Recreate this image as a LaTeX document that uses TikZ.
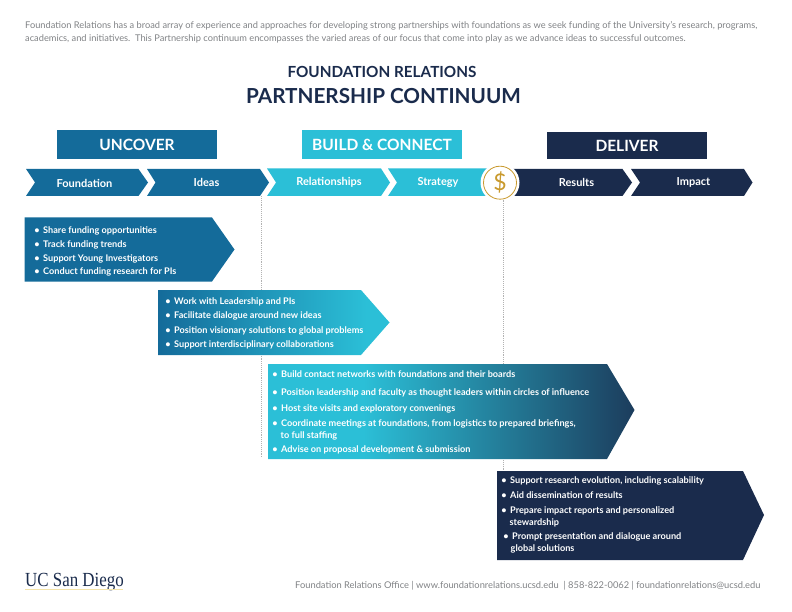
\documentclass[tikz,border=0pt]{standalone}
\usepackage{fontspec}
\setmainfont{Lato}
\newfontfamily\logofont{Liberation Serif}
\usepackage{tikz}
\usetikzlibrary{shapes,arrows}
\definecolor{ucblue}{HTML}{146B9A}
\definecolor{ucteal}{HTML}{2BBFD7}
\definecolor{ucnavy}{HTML}{1A2B4C}
\definecolor{ucgray}{HTML}{808285}
\definecolor{ucgold}{HTML}{C99A2E}
\definecolor{ucpale}{HTML}{F3E3A8}
\pgfdeclarehorizontalshading{bluetoteal}{100bp}{color(0bp)=(ucblue); color(25bp)=(ucblue); color(70bp)=(ucteal); color(100bp)=(ucteal)}
\pgfdeclarehorizontalshading{tealtonavy}{100bp}{color(0bp)=(ucteal); color(38bp)=(ucteal); color(80bp)=(ucnavy); color(100bp)=(ucnavy)}
\newcommand{\blt}{\llap{\textbullet\hspace{3.5pt}}}
\tikzset{
  phasebox/.style={minimum width=160pt, minimum height=29pt, inner sep=0pt, text=white, font=\fontsize{15.5}{18}\selectfont\bfseries},
  steplabel/.style={text=white, inner sep=0pt, font=\fontsize{11}{12}\selectfont\bfseries},
  item/.style={anchor=base west, text=white, inner sep=0pt, font=\fontsize{9.15}{10}\selectfont\bfseries},
  plain/.style={anchor=base west, text=ucgray, inner sep=0pt, font=\fontsize{9.27}{10}\selectfont},
  guide/.style={draw=gray!60, densely dotted, line width=0.9pt}
}
\begin{document}
\begin{tikzpicture}[x=1pt,y=-1pt]
\useasboundingbox (0,0) rectangle (792,612);
% intro and titles
\node (introa) [plain] at (25,29) {Foundation Relations has a broad array of experience and approaches for developing strong partnerships with foundations as we seek funding of the University's research, programs,};
\node (introb) [plain] at (25,42) {academics, and initiatives.\ \ This Partnership continuum encompasses the varied areas of our focus that come into play as we advance ideas to successful outcomes.};
\node (titlea) [text=ucnavy, inner sep=0pt, font=\fontsize{15.3}{18}\selectfont\bfseries] at (382,71.5) {FOUNDATION RELATIONS};
\node (titleb) [text=ucnavy, inner sep=0pt, font=\fontsize{20.7}{24}\selectfont\bfseries] at (383.5,96) {PARTNERSHIP CONTINUUM};
% phases
\node (uncover) [phasebox, fill=ucblue] at (137,145) {UNCOVER};
\node (build) [phasebox, fill=ucteal] at (382,145) {BUILD \& CONNECT};
\node (deliver) [phasebox, fill=ucnavy, minimum height=27pt] at (627,146) {DELIVER};
% guide lines
\coordinate (guidea) at (261,196);
\coordinate (guideaend) at (261,458);
\draw [guide] (guidea) -- (guideaend);
% steps
\fill [ucblue] (26,169) -- (138.5,169) -- (148,182.5) -- (138.5,196) -- (26,196) -- (35,182.5) -- cycle;
\fill [ucblue] (147,169) -- (260,169) -- (269,182.5) -- (260,196) -- (147,196) -- (155.5,182.5) -- cycle;
\fill [ucteal] (267,168.5) -- (381,168.5) -- (390,182.5) -- (381,196) -- (267,196) -- (276,182.5) -- cycle;
\fill [ucteal] (388,168.5) -- (500,168.5) -- (500,196) -- (388,196) -- (397,182.5) -- cycle;
\fill [ucnavy] (500,169) -- (622.5,169) -- (632,182.5) -- (622.5,196) -- (500,196) -- cycle;
\fill [ucnavy] (631,169) -- (744,169) -- (752.5,182.5) -- (744,196) -- (631,196) -- (640,182.5) -- cycle;
\node (foundation) [steplabel] at (84.5,183) {Foundation};
\node (ideas) [steplabel] at (206.5,182.5) {Ideas};
\node (relationships) [steplabel] at (329,182.5) {Relationships};
\node (strategy) [steplabel] at (438,182.5) {Strategy};
\node (results) [steplabel] at (576.5,182.5) {Results};
\node (impact) [steplabel] at (693.5,182.5) {Impact};
% coin
\node (coinback) [circle, fill=white, minimum size=39pt, inner sep=0pt] at (500,182.7) {};
\node (coin) [circle, draw=ucgold, line width=0.8pt, minimum size=33pt, inner sep=0pt, text=ucgold, font=\fontsize{23}{24}\selectfont] at (500,182.7) {\$};
\coordinate (guideb) at (503,471);
\draw [guide] (coin.south -| guideb) -- (guideb);
% uncover box
\fill [ucblue] (24.5,217.5) -- (212,217.5) -- (234.5,249.5) -- (212,281.5) -- (24.5,281.5) -- cycle;
\node (share) [item] at (43,233.7) {\blt Share funding opportunities};
\node (track) [item] at (43,247.7) {\blt Track funding trends};
\node (young) [item] at (43,261.7) {\blt Support Young Investigators};
\node (conduct) [item] at (43,274.7) {\blt Conduct funding research for PIs};
% ideas box
\shade [shading=bluetoteal] (158,290) -- (361,290) -- (389.5,322.5) -- (361,355) -- (158,355) -- cycle;
\node (work) [item] at (174,304) {\blt Work with Leadership and PIs};
\node (facil) [item] at (174,318) {\blt Facilitate dialogue around new ideas};
\node (posit) [item] at (174,333) {\blt Position visionary solutions to global problems};
\node (inter) [item] at (174,347.5) {\blt Support interdisciplinary collaborations};
% connect box
\shade [shading=tealtonavy] (268,364) -- (607,364) -- (634.5,410) -- (607,459) -- (268,459) -- cycle;
\node (contact) [item] at (281,377) {\blt Build contact networks with foundations and their boards};
\node (leaders) [item] at (281,395) {\blt Position leadership and faculty as thought leaders within circles of influence};
\node (host) [item] at (281,411) {\blt Host site visits and exploratory convenings};
\node (coord) [item] at (281,426) {\blt Coordinate meetings at foundations, from logistics to prepared briefings,};
\node (staff) [item] at (280.5,438) {to full staffing};
\node (advise) [item] at (281,452) {\blt Advise on proposal development \& submission};
% deliver box
\fill [ucnavy] (497,471) -- (743,471) -- (764,515) -- (743,560) -- (497,560) -- cycle;
\node (evol) [item] at (510,483) {\blt Support research evolution, including scalability};
\node (aid) [item] at (510,498) {\blt Aid dissemination of results};
\node (prep) [item] at (510,513) {\blt Prepare impact reports and personalized};
\node (stew) [item] at (509.5,525) {stewardship};
\node (prompt) [item] at (512,539) {\blt Prompt presentation and dialogue around};
\node (glob) [item] at (510.5,551) {global solutions};
% footer
\node (logo) [anchor=base west, inner sep=0pt, text=ucnavy, font=\logofont\fontsize{20}{22}\selectfont] at (25,586) {\scalebox{.845}[1]{UC San Diego}};
\fill [ucpale] (25,588.5) rectangle (123,589.5);
\node (office) [plain, font=\fontsize{9.32}{10}\selectfont] at (295,588) {Foundation Relations Office | www.foundationrelations.ucsd.edu\ \ | 858-822-0062 | foundationrelations@ucsd.edu};
\end{tikzpicture}
\end{document}
